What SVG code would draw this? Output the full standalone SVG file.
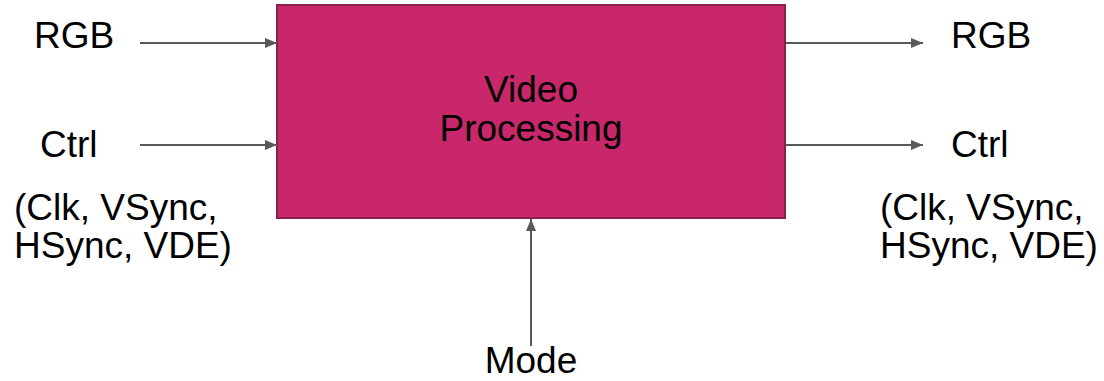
<svg xmlns="http://www.w3.org/2000/svg" width="1104" height="381" viewBox="0 0 1104 381">
  <defs>
    <style>
      .lbl { font-family: "Liberation Sans", Arial, sans-serif; font-size: 37px; fill: #000; }
      .wire { stroke: #595959; stroke-width: 2; fill: none; marker-end: url(#head); }
      .block { fill: #c8286b; stroke: #8a1f4e; stroke-width: 2; }
    </style>
    <marker id="head" viewBox="0 0 12 10" refX="12" refY="5" markerWidth="12" markerHeight="10" markerUnits="userSpaceOnUse" orient="auto">
      <path d="M0,0 L12,5 L0,10 Z" fill="#595959"/>
    </marker>
  </defs>
  <rect width="1104" height="381" fill="#fff"/>

  <g id="video-processing">
    <rect class="block" x="277" y="5" width="508" height="213"/>
    <text class="lbl" x="531" y="102" text-anchor="middle">Video</text>
    <text class="lbl" x="531" y="141" text-anchor="middle">Processing</text>
  </g>

  <g id="in-rgb">
    <text class="lbl" x="34" y="48">RGB</text>
  </g>
  <g id="in-ctrl">
    <text class="lbl" x="40" y="157">Ctrl</text>
    <text class="lbl" x="14" y="220">(Clk, VSync,</text>
    <text class="lbl" x="14" y="258">HSync, VDE)</text>
  </g>
  <g id="out-rgb">
    <text class="lbl" x="951" y="48">RGB</text>
  </g>
  <g id="out-ctrl">
    <text class="lbl" x="951" y="157">Ctrl</text>
    <text class="lbl" x="880" y="220">(Clk, VSync,</text>
    <text class="lbl" x="880" y="258">HSync, VDE)</text>
  </g>
  <g id="mode">
    <text class="lbl" x="531" y="373" text-anchor="middle">Mode</text>
  </g>

  <g id="connectors">
    <line class="wire" x1="140" y1="43" x2="277" y2="43"/>
    <line class="wire" x1="140" y1="145" x2="277" y2="145"/>
    <line class="wire" x1="786" y1="43" x2="923" y2="43"/>
    <line class="wire" x1="786" y1="145" x2="923" y2="145"/>
    <line class="wire" x1="531" y1="346" x2="531" y2="219"/>
  </g>
</svg>
